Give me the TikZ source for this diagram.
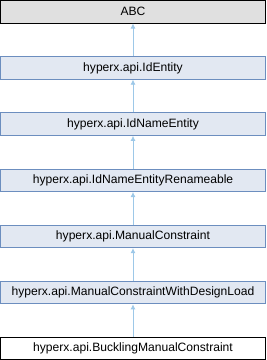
\documentclass[tikz,border=0pt]{standalone}
\usepackage{fontspec}
\setmainfont{Liberation Sans}
\usetikzlibrary{arrows.meta,positioning}
\definecolor{boxfill}{HTML}{E2E8F2}
\definecolor{boxline}{HTML}{6C8EBF}
\definecolor{extfill}{HTML}{E0E0E0}
\definecolor{edgeblue}{HTML}{9DC8E8}

\begin{document}
\begin{tikzpicture}[x=1pt,y=-1pt,
 cls/.style={draw=boxline,fill=boxfill,line width=1pt,minimum width=265pt,minimum height=22.5pt,inner sep=0pt,font=\fontsize{12.1}{14}\selectfont},
 ext/.style={cls,draw=black,fill=extfill},
 cur/.style={cls,draw=black,fill=white},
 a/.style={-{Latex[length=5pt,width=5pt]},line width=0.8pt,edgeblue}]
\useasboundingbox (0,0) rectangle (266,360);
\node[ext] (abc) at (133,11.75) {ABC};
\node[cls] (ident) at (133,67.9) {hyperx.api.IdEntity};
\node[cls] (idname) at (133,124.1) {hyperx.api.IdNameEntity};
\node[cls] (rename) at (133,180.25) {hyperx.api.IdNameEntityRenameable};
\node[cls] (manual) at (133,236.4) {hyperx.api.ManualConstraint};
\node[cls] (design) at (133,292.6) {hyperx.api.ManualConstraintWithDesignLoad};
\node[cur] (buck) at (133,348.5) {hyperx.api.BucklingManualConstraint};
\draw[a] (ident)--(abc); \draw[a] (idname)--(ident); \draw[a] (rename)--(idname);
\draw[a] (manual)--(rename); \draw[a] (design)--(manual); \draw[a] (buck)--(design);
\end{tikzpicture}
\end{document}
